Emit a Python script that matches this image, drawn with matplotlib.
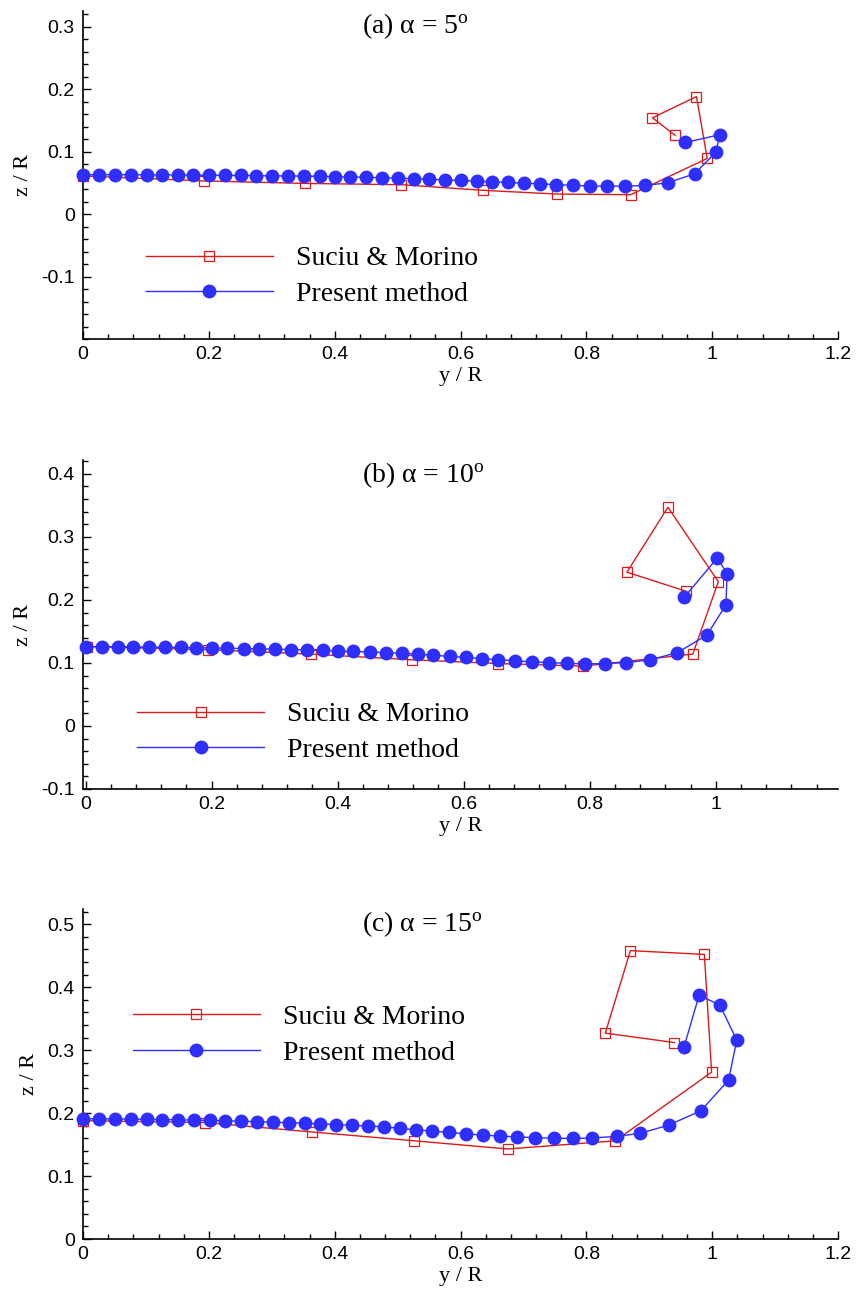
import numpy as np
import matplotlib
matplotlib.use('Agg')
import matplotlib.pyplot as plt
from matplotlib.ticker import MultipleLocator, FixedLocator
from matplotlib.lines import Line2D

plt.rcParams['font.family'] = 'Liberation Sans'
plt.rcParams['mathtext.fontset'] = 'custom'
plt.rcParams['mathtext.rm'] = 'Liberation Serif'
plt.rcParams['mathtext.it'] = 'Liberation Serif:italic'

# ---- panel (a) alpha = 5 ----
ya_sm = [0.0, 0.193, 0.353, 0.506, 0.635, 0.753, 0.8705, 0.992, 0.975, 0.905, 0.941]
za_sm = [0.061, 0.053, 0.049, 0.047, 0.038, 0.032, 0.031, 0.089, 0.188, 0.154, 0.126]
ya_pm = [0.0, 0.025, 0.051, 0.076, 0.101, 0.126, 0.151, 0.175, 0.200, 0.226, 0.251,
         0.275, 0.300, 0.325, 0.351, 0.376, 0.401, 0.425, 0.450, 0.475, 0.500,
         0.526, 0.550, 0.575, 0.600, 0.626, 0.650, 0.676, 0.701, 0.727, 0.752,
         0.779, 0.805, 0.832, 0.861, 0.893, 0.929, 0.972, 1.006, 1.012, 0.957]
za_pm = [0.063, 0.063, 0.063, 0.0629, 0.0628, 0.0627, 0.0625, 0.0623, 0.0621, 0.0619,
         0.0617, 0.0614, 0.0611, 0.0608, 0.0608, 0.0603, 0.0598, 0.0593, 0.0588, 0.0582,
         0.0575, 0.0566, 0.0557, 0.0547, 0.0537, 0.0527, 0.0516, 0.0505, 0.0494, 0.0483,
         0.0471, 0.0459, 0.0448, 0.0447, 0.0447, 0.0458, 0.0500, 0.0644, 0.0993, 0.127, 0.1145]

# ---- panel (b) alpha = 10 ----
yb_sm = [0.0016, 0.194, 0.358, 0.518, 0.654, 0.790, 0.9635, 1.004, 0.924, 0.859, 0.952]
zb_sm = [0.126, 0.121, 0.114, 0.105, 0.099, 0.095, 0.114, 0.229, 0.347, 0.244, 0.214]
yb_pm = [0.0, 0.026, 0.051, 0.076, 0.101, 0.126, 0.151, 0.175, 0.200, 0.225, 0.251,
         0.275, 0.301, 0.326, 0.351, 0.376, 0.401, 0.425, 0.451, 0.476, 0.502,
         0.527, 0.552, 0.578, 0.603, 0.629, 0.655, 0.681, 0.708, 0.735, 0.764,
         0.793, 0.824, 0.858, 0.895, 0.939, 0.986, 1.016, 1.018, 1.0025, 0.950]
zb_pm = [0.126, 0.1259, 0.1257, 0.1255, 0.1252, 0.1249, 0.1245, 0.1241, 0.1237, 0.1233,
         0.1228, 0.1223, 0.1218, 0.1212, 0.1206, 0.1198, 0.1190, 0.1182, 0.1173, 0.1164,
         0.1154, 0.1138, 0.1121, 0.1104, 0.1087, 0.1070, 0.1052, 0.1035, 0.1019, 0.1005,
         0.0993, 0.0985, 0.0989, 0.1005, 0.1048, 0.1163, 0.1444, 0.1919, 0.2413, 0.2667, 0.2043]

# ---- panel (c) alpha = 15 ----
yc_sm = [0.0, 0.194, 0.364, 0.5265, 0.675, 0.846, 0.999, 0.9875, 0.870, 0.830, 0.940]
zc_sm = [0.188, 0.185, 0.170, 0.156, 0.143, 0.156, 0.265, 0.452, 0.458, 0.327, 0.312]
yc_pm = [0.0, 0.025, 0.051, 0.076, 0.101, 0.126, 0.151, 0.176, 0.201, 0.226, 0.251,
         0.276, 0.302, 0.327, 0.352, 0.377, 0.402, 0.427, 0.453, 0.478, 0.504,
         0.529, 0.555, 0.582, 0.608, 0.635, 0.662, 0.689, 0.718, 0.749, 0.779,
         0.809, 0.848, 0.886, 0.931, 0.982, 1.026, 1.039, 1.012, 0.979, 0.955]
zc_pm = [0.191, 0.1909, 0.1907, 0.1904, 0.1901, 0.1897, 0.1893, 0.1888, 0.1883, 0.1877,
         0.1871, 0.1863, 0.1856, 0.1849, 0.1840, 0.1830, 0.1818, 0.1806, 0.1794, 0.1782,
         0.1757, 0.1735, 0.1713, 0.1692, 0.1671, 0.1650, 0.1636, 0.1622, 0.1610, 0.1601,
         0.1598, 0.1605, 0.163, 0.168, 0.181, 0.2037, 0.2524, 0.3159, 0.3719, 0.3868, 0.3043]

titles = ['(a) α = 5$^{\\mathrm{o}}$', '(b) α = 10$^{\\mathrm{o}}$', '(c) α = 15$^{\\mathrm{o}}$']
labels = ['Suciu & Morino', 'Present method']

red = '#dc1a1a'
blue = '#2e2eff'
serif = 'Liberation Serif'

fig = plt.figure(figsize=(8.57, 12.9), dpi=100)

# axes boxes in figure fraction (left, bottom, width, height)
boxes = [[0.0969, 0.7372, 0.881, 0.2543],
         [0.0969, 0.3884, 0.881, 0.2550],
         [0.0969, 0.0395, 0.881, 0.2558]]
xlims = [(0, 1.2), (-0.004, 1.194), (0, 1.2)]
ylims = [(-0.2, 0.325), (-0.1, 0.422), (0, 0.524)]
ymaj = [[-0.1, 0, 0.1, 0.2, 0.3], [-0.1, 0, 0.1, 0.2, 0.3, 0.4], [0, 0.1, 0.2, 0.3, 0.4, 0.5]]
xmaj = [[0, 0.2, 0.4, 0.6, 0.8, 1.0, 1.2], [0, 0.2, 0.4, 0.6, 0.8, 1.0], [0, 0.2, 0.4, 0.6, 0.8, 1.0, 1.2]]
leg_pos = [(0.083, 0.284), (0.072, 0.265), (0.066, 0.71)]

data = [(ya_sm, za_sm, ya_pm, za_pm), (yb_sm, zb_sm, yb_pm, zb_pm), (yc_sm, zc_sm, yc_pm, zc_pm)]

for k in range(3):
    ax = fig.add_axes(boxes[k])
    ysm, zsm, ypm, zpm = data[k]
    ax.plot(ysm, zsm, color=red, lw=1.0, marker='s', ms=7.5, mfc='none', mec=red,
            mew=0.9, clip_on=False, zorder=3)
    ax.plot(ypm, zpm, color=blue, lw=1.0, marker='o', ms=10, mfc=blue, mec=blue,
            mew=0, clip_on=False, zorder=4)
    ax.set_xlim(xlims[k])
    ax.set_ylim(ylims[k])
    ax.spines['top'].set_visible(False)
    ax.spines['right'].set_visible(False)
    ax.spines['left'].set_linewidth(1.2)
    ax.spines['bottom'].set_linewidth(1.2)
    ax.xaxis.set_major_locator(FixedLocator(xmaj[k]))
    ax.yaxis.set_major_locator(FixedLocator(ymaj[k]))
    ax.xaxis.set_minor_locator(MultipleLocator(0.04))
    ax.yaxis.set_minor_locator(MultipleLocator(0.02))
    ax.set_xticklabels(['%g' % v for v in xmaj[k]])
    ax.set_yticklabels(['%g' % v for v in ymaj[k]])
    ax.tick_params(which='both', direction='in', width=1.0, labelsize=14)
    ax.tick_params(which='major', length=6, pad=5)
    ax.tick_params(which='minor', length=3.5)
    ax.tick_params(axis='y', which='major', pad=6)
    ax.set_xlabel('y / R', family=serif, fontsize=16, labelpad=3)
    ax.set_ylabel('z / R', family=serif, fontsize=16, labelpad=6)
    ax.text(0.37, 0.933, titles[k], transform=ax.transAxes, family=serif,
            fontsize=20, ha='left', va='baseline')
    handles = [Line2D([], [], color=red, lw=1.0, marker='s', ms=7.5, mfc='none', mec=red, mew=0.9),
               Line2D([], [], color=blue, lw=1.0, marker='o', ms=10, mfc=blue, mec=blue, mew=0)]
    ax.legend(handles, labels, loc='upper left', bbox_to_anchor=leg_pos[k], frameon=False,
              prop={'family': serif, 'size': 20}, handlelength=4.57, handletextpad=0.83,
              labelspacing=0.36, borderpad=0, borderaxespad=0, numpoints=1)

fig.savefig('out.png', dpi=100)
